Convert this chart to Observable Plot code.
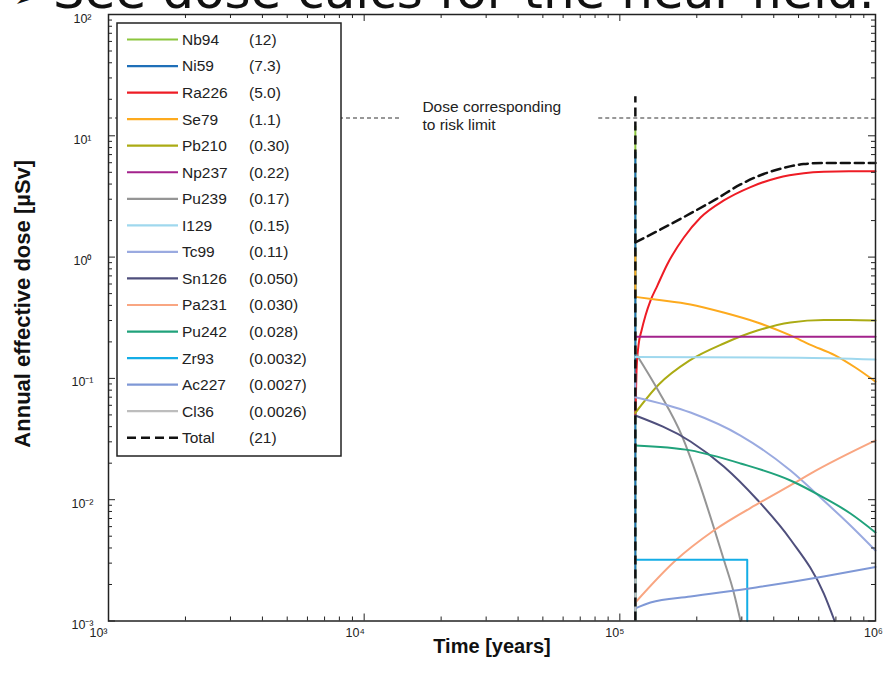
<!DOCTYPE html>
<html><head><meta charset="utf-8">
<script src="https://cdn.jsdelivr.net/npm/d3@7"></script>
<script src="https://cdn.jsdelivr.net/npm/@observablehq/plot@0.6"></script>
<style>
body{margin:0;background:#fff;width:884px;height:690px;overflow:hidden;position:relative;font-family:"Liberation Sans",Arial,sans-serif}
#chart{position:absolute;left:0;top:0}
#header{position:absolute;left:0;top:0}
#legend{position:absolute;left:116px;top:22px}
</style></head><body>
<div id="chart"></div>
<svg id="header" width="884" height="30">
  <text x="12" y="8" font-family="DejaVu Sans" font-size="44" fill="#111">➢</text>
  <text x="53" y="8" font-family="DejaVu Sans" font-size="50" fill="#111">See dose calcs for the near field.</text>
</svg>
<svg id="legend" width="228" height="438"></svg>
<script>
// ---------- data ----------
const releaseTime = 1.15e5;          // years
const riskDose = 14;                 // µSv, dose corresponding to risk limit
const riskSegments = [[1e3, 1.41e4], [8.27e4, 1e6]];
const riskLabelTime = 1.69e4;

const nuclides = ["Nb94","Ni59","Ra226","Se79","Pb210","Np237","Pu239","I129","Tc99","Sn126","Pa231","Pu242","Zr93","Ac227","Cl36","Total"];
const peakLabels = ["(12)","(7.3)","(5.0)","(1.1)","(0.30)","(0.22)","(0.17)","(0.15)","(0.11)","(0.050)","(0.030)","(0.028)","(0.0032)","(0.0027)","(0.0026)","(21)"];
const colors = ["#8cc63e","#1f6fb8","#ee1c25","#fdaa1e","#abab14","#a3228c","#959595","#9fd8ee","#9aaae0","#4f4f7c","#f9a682","#20a27b","#14ade6","#7f98d6","#bdbdbd","#111111"];

// vertical spikes at the release time: [nuclide, from dose, to dose]
const spikes = [
  ["Nb94", 1e-3, 12], ["Ni59", 1e-3, 7.3], ["Se79", 0.47, 1.1], ["Pu239", 0.16, 0.17],
  ["Tc99", 0.07, 0.11], ["Cl36", 1e-3, 0.0026], ["Total", 1e-3, 21]
];

// [time (years), annual effective dose (µSv)]
const Ra226 = [[1.15e5,0.05],[1.1625e5,0.116],[1.183e5,0.187],[1.216e5,0.248],[1.26e5,0.33],[1.319e5,0.44],[1.401e5,0.58],[1.532e5,0.87],[1.78e5,1.45],[2.069e5,2.12],[2.551e5,2.93],[3.245e5,3.78],[4.126e5,4.49],[5.243e5,4.91],[6.28e5,5.05],[7.875e5,5.1],[1e6,5.1]];
const Se79 = [[1.15e5,0.47],[1.40e5,0.445],[1.89e5,0.407],[2.546e5,0.349],[3.45e5,0.289],[4.65e5,0.226],[5.54e5,0.19],[6.95e5,0.155],[8.34e5,0.123],[1e6,0.094]];
const Pb210 = [[1.15e5,0.052],[1.42e5,0.089],[1.87e5,0.140],[2.55e5,0.194],[3.45e5,0.248],[4.65e5,0.289],[6.28e5,0.303],[7.9e5,0.303],[1e6,0.30]];
const Np237 = [[1.15e5,0.22],[1e6,0.22]];
const I129 = [[1.15e5,0.15],[5e5,0.148],[1e6,0.143]];
const Pu239 = [[1.15e5,0.163],[1.42e5,0.078],[1.753e5,0.0332],[2.013e5,0.0152],[2.331e5,0.0059],[2.551e5,0.0032],[2.79e5,0.00172],[2.966e5,0.001]];
const Tc99 = [[1.15e5,0.070],[1.89e5,0.0523],[2.965e5,0.0338],[4.65e5,0.0174],[6.27e5,0.00985],[7.98e5,0.00613],[1e6,0.00381]];
const Sn126 = [[1.15e5,0.0494],[1.89e5,0.0302],[2.55e5,0.0188],[3.44e5,0.01004],[4.65e5,0.0047],[6.28e5,0.00168],[6.92e5,0.001]];
const Pa231 = [[1.15e5,0.00142],[1.651e5,0.00315],[2.331e5,0.00557],[3.55e5,0.00953],[4.87e5,0.0139],[5.57e5,0.0164],[1e6,0.0308]];
const Pu242 = [[1.15e5,0.0280],[1.89e5,0.0255],[2.965e5,0.0199],[4.65e5,0.0144],[6.27e5,0.0104],[7.98e5,0.0077],[1e6,0.00537]];
const Zr93 = [[1.15e5,0.0032],[3.15e5,0.0032],[3.15e5,0.001]];
const Ac227 = [[1.15e5,0.00127],[1.318e5,0.00142],[1.89e5,0.00159],[3.41e5,0.00189],[6.27e5,0.00233],[1e6,0.00279]];
const Total = [[1.15e5,1.32],[1.443e5,1.69],[1.89e5,2.29],[2.37e5,2.99],[2.965e5,3.97],[3.65e5,4.84],[4.37e5,5.43],[5.23e5,5.85],[6.27e5,5.97],[1e6,5.97]];

const curves = {Ra226, Se79, Pb210, Np237, Pu239, I129, Tc99, Sn126, Pa231, Pu242, Zr93, Ac227, Total};

const xMajor = [1e3, 1e4, 1e5, 1e6];
const xTickLabels = ["10³","10⁴","10⁵","10⁶"];
const yMajor = [1e-3, 1e-2, 1e-1, 1, 10, 100];
const yTickLabels = ["10⁻³","10⁻²","10⁻¹","10⁰","10¹","10²"];

// ---------- build ----------
const colorOf = Object.fromEntries(nuclides.map((n, i) => [n, colors[i]]));
const minorOf = (majors) => majors.slice(0, -1).flatMap(m => [2,3,4,5,6,7,8,9].map(k => k * m));
const xMinor = minorOf(xMajor), yMinor = minorOf(yMajor);

const W = 884, H = 690, mL = 108, mR = 9, mT = 14, mB = 69.5;
const fw = W - mL - mR, fh = H - mT - mB;
const tickFont = "'Liberation Sans',Arial,sans-serif";
const xLabelShift = [-10, -9, -5, -2];

const marks = [];
// risk limit line and label
marks.push(Plot.ruleY(riskSegments, {y: () => riskDose, x1: d => d[0], x2: d => d[1], stroke: "#333", strokeWidth: 1.1, strokeDasharray: "4,3"}));
marks.push(Plot.text(["Dose corresponding\nto risk limit"], {x: riskLabelTime, y: riskDose, text: d => d, textAnchor: "start", lineAnchor: "middle", lineHeight: 1.15, dy: -3, fontSize: 15.5, fill: "#222"}));

// series in legend order, Total last
for (const n of nuclides) {
  const isTotal = n === "Total";
  for (const s of spikes.filter(s => s[0] === n)) {
    marks.push(Plot.ruleX([s], {x: () => releaseTime, y1: d => d[1], y2: d => d[2], stroke: colorOf[n], strokeWidth: isTotal ? 2.5 : 2, strokeDasharray: isTotal ? "9,5" : null}));
  }
  if (curves[n]) {
    marks.push(Plot.line(curves[n], {x: d => d[0], y: d => d[1], stroke: colorOf[n],
      strokeWidth: isTotal ? 2.5 : 2, strokeDasharray: isTotal ? "9,5" : null,
      curve: (n === "Zr93" || n === "Np237") ? "linear" : "monotone-x"}));
  }
}

// frame and inward ticks
marks.push(Plot.frame({stroke: "#222", strokeWidth: 1.5}));
marks.push(Plot.tickX(xMajor, {x: d => d, insetTop: fh - 7, stroke: "#222"}));
marks.push(Plot.tickX(xMinor, {x: d => d, insetTop: fh - 4, stroke: "#222"}));
marks.push(Plot.tickX(xMajor, {x: d => d, insetBottom: fh - 7, stroke: "#222"}));
marks.push(Plot.tickX(xMinor, {x: d => d, insetBottom: fh - 4, stroke: "#222"}));
marks.push(Plot.tickY(yMajor, {y: d => d, insetRight: fw - 7, stroke: "#222"}));
marks.push(Plot.tickY(yMinor, {y: d => d, insetRight: fw - 4, stroke: "#222"}));
marks.push(Plot.tickY(yMajor, {y: d => d, insetLeft: fw - 7, stroke: "#222"}));
marks.push(Plot.tickY(yMinor, {y: d => d, insetLeft: fw - 4, stroke: "#222"}));

// tick labels
xMajor.forEach((v, i) => {
  marks.push(Plot.text([v], {x: d => d, text: () => xTickLabels[i], frameAnchor: "bottom", dy: 16, dx: xLabelShift[i], textAnchor: "middle", fontSize: 12.5, fill: "#222", fontFamily: tickFont}));
});
marks.push(Plot.text(yMajor, {y: d => d, text: (d, i) => yTickLabels[i], frameAnchor: "left", dx: -26, dy: 4, textAnchor: "middle", fontSize: 12.5, fill: "#222", fontFamily: tickFont}));

// axis titles
marks.push(Plot.text(["Time [years]"], {frameAnchor: "bottom", text: d => d, dy: 32, textAnchor: "middle", fontWeight: "bold", fontSize: 20, fill: "#111"}));
marks.push(Plot.text(["Annual effective dose [µSv]"], {frameAnchor: "left", text: d => d, dx: -86, dy: -14, rotate: -90, textAnchor: "middle", fontWeight: "bold", fontSize: 22, fill: "#111"}));

const chart = Plot.plot({
  width: W, height: H,
  marginLeft: mL, marginRight: mR, marginTop: mT, marginBottom: mB,
  x: {type: "log", domain: [1e3, 1e6], axis: null},
  y: {type: "log", domain: [1e-3, 1e2], axis: null},
  style: {background: "#fff", fontFamily: "'Liberation Sans',Arial,sans-serif"},
  marks
});
document.getElementById("chart").appendChild(chart);

// ---------- legend ----------
const ns = "http://www.w3.org/2000/svg";
const lg = document.getElementById("legend");
function el(tag, attrs, text) {
  const e = document.createElementNS(ns, tag);
  for (const k in attrs) e.setAttribute(k, attrs[k]);
  if (text != null) e.textContent = text;
  lg.appendChild(e);
  return e;
}
el("rect", {x: 1, y: 1, width: 224, height: 433, fill: "#fff", stroke: "#222", "stroke-width": 1.5});
nuclides.forEach((n, i) => {
  const y = 17.5 + i * 26.55;
  el("line", {x1: 11, x2: 62, y1: y, y2: y, stroke: colorOf[n], "stroke-width": n === "Total" ? 2.5 : 2.2, "stroke-dasharray": n === "Total" ? "9,5" : "none"});
  el("text", {x: 66, y: y, dy: "0.35em", "font-size": 15.5, fill: "#222", "font-family": "'Liberation Sans',Arial,sans-serif"}, n);
  el("text", {x: 133, y: y, dy: "0.35em", "font-size": 15.5, fill: "#222", "font-family": "'Liberation Sans',Arial,sans-serif"}, peakLabels[i]);
});
</script>
</body></html>
